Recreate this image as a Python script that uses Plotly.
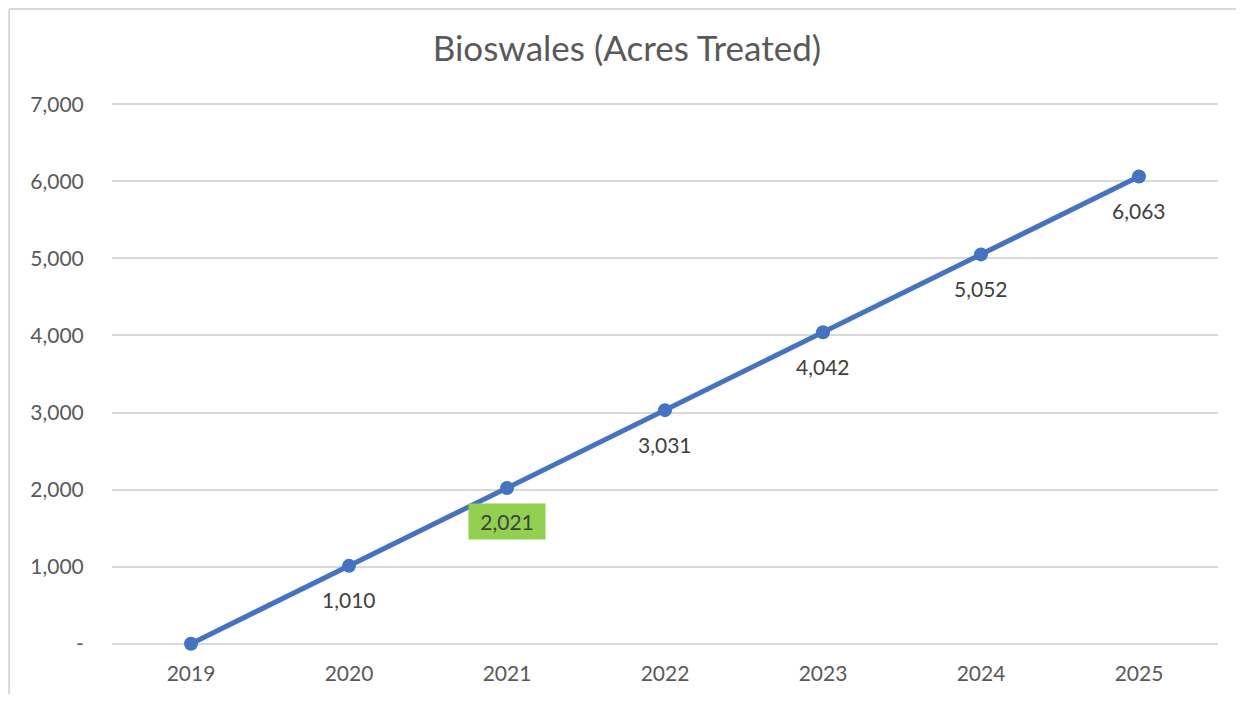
import plotly.graph_objects as go

years = ["2019", "2020", "2021", "2022", "2023", "2024", "2025"]
acres = [0, 1010, 2021, 3031, 4042, 5052, 6063]
label_text = ["", "1,010", "2,021", "3,031", "4,042", "5,052", "6,063"]
highlight_year = "2021"

y_ticks = [0, 1000, 2000, 3000, 4000, 5000, 6000, 7000]
y_tick_text = ["-", "1,000", "2,000", "3,000", "4,000", "5,000", "6,000", "7,000"]

blue = "#4472C4"
grey_text = "#595959"
grid = "#D9D9D9"
font_family = "Lato, Carlito, Calibri, sans-serif"

fig = go.Figure()
fig.add_trace(go.Scatter(
    x=years, y=acres,
    mode="lines+markers",
    line=dict(color=blue, width=5),
    marker=dict(color=blue, size=14),
    cliponaxis=False,
    hoverinfo="x+y",
    showlegend=False,
))

# data labels under the points (category index used as x position)
for i, (yr, val, txt) in enumerate(zip(years, acres, label_text)):
    if not txt:
        continue
    hl = yr == highlight_year
    fig.add_annotation(
        x=i, y=val, xref="x", yref="y",
        text=txt, showarrow=False,
        yshift=-34,
        font=dict(family=font_family, size=21, color="#404040"),
        bgcolor="#92D050" if hl else "rgba(0,0,0,0)",
        borderpad=5 if hl else 0,
        width=66 if hl else None,
    )

# light chart-area border (left and top edges)
fig.add_shape(type="line", xref="paper", yref="paper",
              x0=-0.093, x1=1.2, y0=1.171, y1=1.171,
              line=dict(color=grid, width=2))
fig.add_shape(type="line", xref="paper", yref="paper",
              x0=-0.093, x1=-0.093, y0=-0.2, y1=1.171,
              line=dict(color=grid, width=2))

fig.update_layout(
    width=1228, height=686,
    margin=dict(l=104, r=18, t=94, b=48),
    plot_bgcolor="white", paper_bgcolor="white",
    title=dict(text="Bioswales (Acres Treated)", x=0.504, xanchor="center",
               y=0.94, yanchor="middle",
               font=dict(family=font_family, size=35, color=grey_text)),
    font=dict(family=font_family, color=grey_text),
)
fig.update_xaxes(type="category", range=[-0.5, 6.5], showgrid=False, showline=False,
                 zeroline=False, automargin=False,
                 ticks="outside", ticklen=9, tickcolor="rgba(0,0,0,0)",
                 tickfont=dict(size=21, color=grey_text))
# range padded so the 0 and 7,000 gridlines are not dropped at the edges
fig.update_yaxes(range=[-30, 7030], tickvals=y_ticks, ticktext=y_tick_text,
                 showgrid=True, gridcolor=grid, gridwidth=2, zeroline=False,
                 automargin=False,
                 ticks="outside", ticklen=23, tickcolor="rgba(0,0,0,0)",
                 tickfont=dict(size=21, color=grey_text))

fig.write_html("out.html")
